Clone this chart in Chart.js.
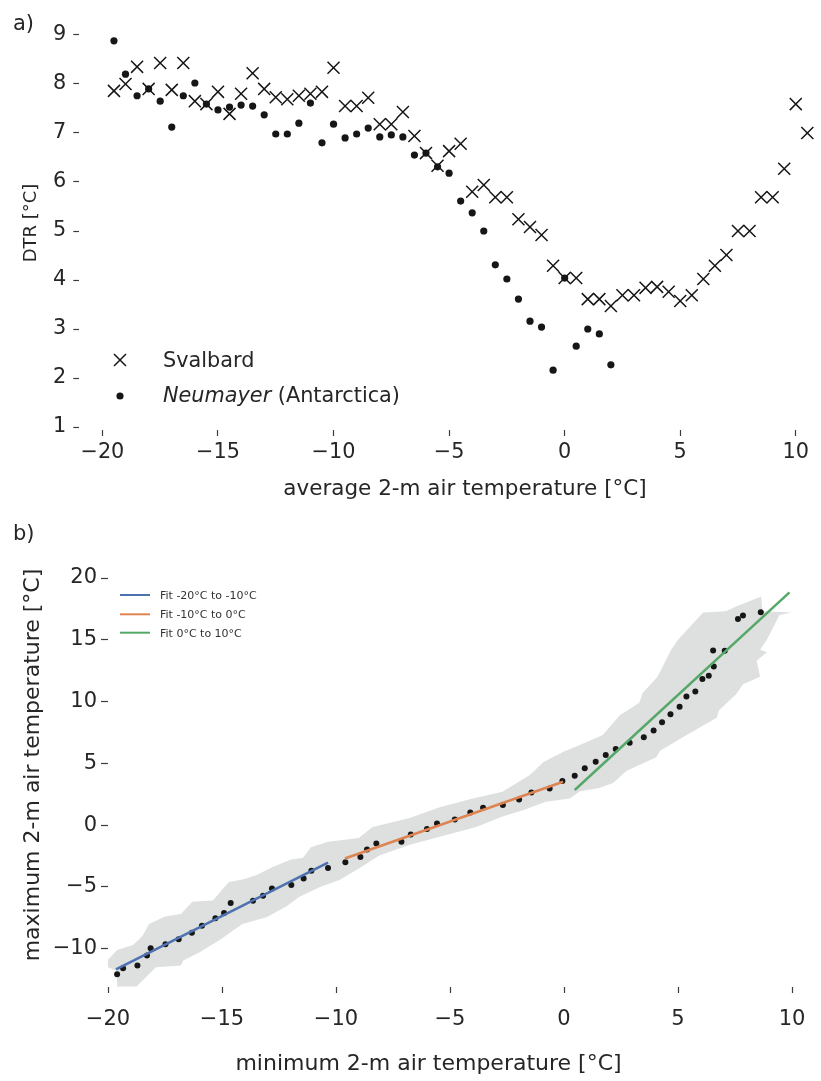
<!DOCTYPE html>
<html>
<head>
<meta charset="utf-8">
<script src="https://cdn.jsdelivr.net/npm/chart.js@4.4.1/dist/chart.umd.min.js"></script>
<style>
  body { margin: 0; background: #fff; width: 821px; height: 1081px; overflow: hidden; position: relative; }
  canvas { position: absolute; left: 0; }
  #dtrChart { top: 0; }
  #minmaxChart { top: 510px; }
</style>
</head>
<body>
<canvas id="dtrChart" width="852" height="510"></canvas>
<canvas id="minmaxChart" width="821" height="571"></canvas>
<script>
// ---- panel a) : DTR vs average temperature (0.5 degC bins) ----
const tempBins = [-19.5, -19, -18.5, -18, -17.5, -17, -16.5, -16, -15.5, -15,
  -14.5, -14, -13.5, -13, -12.5, -12, -11.5, -11, -10.5, -10,
  -9.5, -9, -8.5, -8, -7.5, -7, -6.5, -6, -5.5, -5,
  -4.5, -4, -3.5, -3, -2.5, -2, -1.5, -1, -0.5, 0,
  0.5, 1, 1.5, 2, 2.5, 3, 3.5, 4, 4.5, 5,
  5.5, 6, 6.5, 7, 7.5, 8, 8.5, 9, 9.5, 10, 10.5];
const svalbardDTR = [7.86, 8.0, 8.35, 7.9, 8.43, 7.88, 8.43, 7.65, 7.59, 7.84,
  7.39, 7.8, 8.22, 7.9, 7.73, 7.69, 7.76, 7.8, 7.84, 8.33,
  7.55, 7.55, 7.72, 7.18, 7.18, 7.43, 6.94, 6.59, 6.33, 6.63,
  6.78, 5.8, 5.94, 5.69, 5.69, 5.24, 5.08, 4.92, 4.29, 4.04,
  4.04, 3.61, 3.61, 3.47, 3.69, 3.69, 3.84, 3.86, 3.76, 3.57,
  3.69, 4.02, 4.29, 4.51, 5.0, 5.0, 5.69, 5.69, 6.27, 7.59, 7.0];
const neumayerDTR = [8.88, 8.2, 7.76, 7.9, 7.65, 7.12, 7.76, 8.02, 7.59, 7.47,
  7.53, 7.57, 7.55, 7.37, 6.98, 6.98, 7.2, 7.61, 6.8, 7.18,
  6.9, 6.98, 7.1, 6.92, 6.96, 6.92, 6.55, 6.59, 6.31, 6.18,
  5.61, 5.37, 5.0, 4.31, 4.02, 3.61, 3.16, 3.04, 2.16, 4.04,
  2.65, 3.0, 2.9, 2.27];
const dtrTicksX = [-20, -15, -10, -5, 0, 5, 10];
const dtrTicksY = [1, 2, 3, 4, 5, 6, 7, 8, 9];

// ---- panel b) : max vs min temperature ----
const minTemp = [-19.6, -19.34, -18.71, -18.29, -18.13, -17.48, -16.9, -16.32, -15.88, -15.29,
  -14.91, -14.62, -13.64, -13.2, -12.81, -11.96, -11.42, -11.08, -10.35, -9.59,
  -8.93, -8.64, -8.23, -7.13, -6.72, -6.01, -5.57, -4.79, -4.11, -3.55,
  -2.68, -1.97, -1.43, -0.63, -0.07, 0.47, 0.91, 1.39, 1.83, 2.27,
  2.88, 3.5, 3.93, 4.3, 4.67, 5.07, 5.37, 5.76, 6.07, 6.35,
  6.57, 6.54, 7.05, 7.63, 7.85, 8.63];
const maxTemp = [-12.07, -11.58, -11.37, -10.56, -9.96, -9.64, -9.23, -8.7, -8.15, -7.53,
  -7.12, -6.31, -6.12, -5.72, -5.13, -4.85, -4.32, -3.69, -3.47, -3.0,
  -2.57, -1.97, -1.49, -1.35, -0.76, -0.32, 0.14, 0.46, 1.03, 1.4,
  1.62, 2.08, 2.65, 2.97, 3.57, 4.0, 4.6, 5.13, 5.68, 6.16,
  6.67, 7.11, 7.65, 8.33, 8.98, 9.59, 10.41, 10.81, 11.82, 12.08,
  12.84, 14.14, 14.11, 16.68, 16.97, 17.22];
// spread envelope: upper edge left->right, then lower edge right->left
const envelopeX = [-20.0, -19.6, -18.9, -18.5, -18.2, -17.5, -16.8, -16.3, -15.4, -14.7,
  -14.1, -13.5, -12.8, -12.0, -11.45, -11.1, -10.35, -9.7, -9.0, -8.4,
  -6.8, -5.45, -4.0, -2.7, -1.5, -0.9, 0.0, 0.85, 1.7, 2.45,
  3.3, 3.45, 4.1, 4.7, 5.0, 6.1, 7.1, 7.55, 8.65, 8.7, 10.0,
  9.45, 8.9, 8.6, 8.9, 8.45, 8.6, 7.85, 7.55, 6.8, 6.7,
  5.95, 5.1, 4.2, 4.05, 2.75, 2.15, 1.55, 0.7, 0.25, -0.8,
  -1.8, -2.7, -3.85, -5.45, -6.8, -8.1, -9.0, -9.85, -10.7, -11.6,
  -12.2, -13.05, -14.1, -14.5, -15.1, -16.0, -16.7, -16.8, -17.9, -18.75,
  -19.6, -19.6, -20.0];
const envelopeY = [-10.9, -10.1, -9.7, -9.0, -8.0, -7.4, -7.2, -6.2, -6.1, -4.6,
  -4.4, -4.05, -3.4, -2.8, -2.65, -1.8, -1.35, -1.2, -1.05, -0.15,
  0.55, 1.45, 2.15, 2.7, 4.05, 5.1, 5.95, 6.6, 7.3, 8.9,
  9.9, 10.7, 12.0, 14.2, 15.0, 17.2, 17.3, 17.7, 18.5, 17.3, 17.2,
  17.0, 15.0, 14.2, 14.0, 13.3, 12.0, 11.4, 10.6, 9.3, 8.7,
  7.9, 7.0, 6.0, 5.5, 4.4, 3.4, 3.0, 2.75, 2.15, 1.9,
  1.2, 0.7, -0.15, -0.95, -1.6, -2.45, -3.5, -4.45, -5.0, -5.8,
  -6.6, -7.45, -8.0, -8.5, -9.3, -10.3, -10.95, -11.35, -11.5, -13.05,
  -13.05, -11.8, -11.5];
// fit lines, end points
const fitColdX = [-19.65, -10.35], fitColdY = [-11.68, -3.03];
const fitMidX = [-9.61, -0.04], fitMidY = [-2.7, 3.51];
const fitWarmX = [0.47, 9.89], fitWarmY = [2.84, 18.84];
const mmTicksX = [-20, -15, -10, -5, 0, 5, 10];
const mmTicksY = [-10, -5, 0, 5, 10, 15, 20];

const ink = '#262626';
const tickInk = '#3c3c3c';
const fitColors = ['#4c72b0', '#dd8452', '#55a868'];
Chart.defaults.font.family = "'DejaVu Sans', sans-serif";

function pairs(xs, ys) { return xs.map((x, i) => ({ x: x, y: ys[i] })); }
function fixedTicks(values) { return function (scale) { scale.ticks = values.map(v => ({ value: v })); }; }
function minusFmt(v) { return v < 0 ? '\u2212' + Math.abs(v) : String(v); }

// free text, legends and panel letters
const annotate = {
  id: 'annotate',
  afterDraw(chart, args, opts) {
    const ctx = chart.ctx;
    (opts.texts || []).forEach(t => {
      ctx.save();
      ctx.translate(t.x, t.y);
      ctx.rotate(t.rotate || 0);
      ctx.fillStyle = t.color || ink;
      ctx.textBaseline = 'alphabetic';
      const parts = t.parts || [{ text: t.text }];
      const fontOf = p => (p.italic ? 'italic ' : '') + t.size + "px 'DejaVu Sans'";
      let total = 0;
      parts.forEach(p => { ctx.font = fontOf(p); total += ctx.measureText(p.text).width; });
      let x = t.align === 'left' ? 0 : -total / 2;
      ctx.textAlign = 'left';
      parts.forEach(p => { ctx.font = fontOf(p); ctx.fillText(p.text, x, 0); x += ctx.measureText(p.text).width; });
      ctx.restore();
    });
    (opts.markers || []).forEach(m => {
      ctx.save();
      ctx.strokeStyle = m.color; ctx.fillStyle = m.color;
      if (m.kind === 'cross') {
        ctx.lineWidth = 1.5;
        ctx.beginPath();
        ctx.moveTo(m.x - m.r, m.y - m.r); ctx.lineTo(m.x + m.r, m.y + m.r);
        ctx.moveTo(m.x - m.r, m.y + m.r); ctx.lineTo(m.x + m.r, m.y - m.r);
        ctx.stroke();
      } else if (m.kind === 'dot') {
        ctx.beginPath(); ctx.arc(m.x, m.y, m.r, 0, Math.PI * 2); ctx.fill();
      } else {
        ctx.lineWidth = 2;
        ctx.beginPath(); ctx.moveTo(m.x, m.y); ctx.lineTo(m.x + m.len, m.y); ctx.stroke();
      }
      ctx.restore();
    });
  }
};

function tickAxis(min, max, values, fitSize, isX, tickLen, pad, fontSize) {
  return {
    type: 'linear', min: min, max: max,
    afterBuildTicks: fixedTicks(values),
    afterFit: s => {
      if (isX) { s.height = fitSize; } else { s.width = fitSize; }
      s.paddingLeft = 0; s.paddingRight = 0; s.paddingTop = 0; s.paddingBottom = 0;
    },
    border: { display: false },
    grid: { drawOnChartArea: false, drawTicks: true, tickLength: tickLen, tickWidth: 1.2, tickColor: tickInk },
    ticks: { color: ink, padding: pad, font: { size: fontSize }, callback: v => minusFmt(v) }
  };
}

// Panel a)
new Chart(document.getElementById('dtrChart'), {
  type: 'scatter',
  data: {
    datasets: [{
      label: 'Neumayer (Antarctica)',
      data: pairs(tempBins.slice(0, neumayerDTR.length), neumayerDTR),
      pointStyle: 'circle', pointRadius: 3.6, backgroundColor: '#161616', borderWidth: 0,
      order: 1
    }, {
      label: 'Svalbard',
      data: pairs(tempBins, svalbardDTR),
      pointStyle: 'crossRot', pointRadius: 8.5, borderColor: '#161616', borderWidth: 1.5,
      backgroundColor: 'transparent', order: 2
    }]
  },
  options: {
    responsive: false, animation: false, events: [],
    layout: { padding: { top: 15, left: 0, right: 0, bottom: 0 } },
    plugins: {
      legend: { display: false }, tooltip: { enabled: false },
      annotate: {
        texts: [
          { text: 'a)', x: 13, y: 30, size: 21, align: 'left' },
          { text: 'average 2-m air temperature [°C]', x: 465, y: 495, size: 21.5 },
          { text: 'DTR [°C]', x: 36, y: 223, size: 18, rotate: -Math.PI / 2 },
          { text: 'Svalbard', x: 163, y: 367, size: 20.8, align: 'left' },
          { parts: [{ text: 'Neumayer', italic: true }, { text: ' (Antarctica)' }], x: 163, y: 402, size: 20.8, align: 'left' }
        ],
        markers: [
          { kind: 'cross', x: 120, y: 360, r: 6, color: '#161616' },
          { kind: 'dot', x: 120, y: 396, r: 3.6, color: '#161616' }
        ]
      }
    },
    scales: {
      x: tickAxis(-21, 12, dtrTicksX, 80, true, 6, 4, 20.8),
      y: tickAxis(0.939, 9.408, dtrTicksY, 79.3, false, 6, 7, 20.8)
    }
  },
  plugins: [annotate]
});

// Panel b)
new Chart(document.getElementById('minmaxChart'), {
  type: 'scatter',
  data: {
    datasets: [{
      label: 'spread',
      data: pairs(envelopeX, envelopeY),
      showLine: true, fill: 'shape', pointRadius: 0, borderWidth: 0,
      borderColor: 'rgba(0,0,0,0)', backgroundColor: 'rgb(222,223,223)', order: 5
    }, {
      label: 'binned',
      data: pairs(minTemp, maxTemp),
      pointStyle: 'circle', pointRadius: 3, backgroundColor: '#161616', borderWidth: 0, order: 4
    }, {
      label: 'Fit -20°C to -10°C', data: pairs(fitColdX, fitColdY),
      showLine: true, pointRadius: 0, borderColor: fitColors[0], borderWidth: 2.5, order: 3
    }, {
      label: 'Fit -10°C to 0°C', data: pairs(fitMidX, fitMidY),
      showLine: true, pointRadius: 0, borderColor: fitColors[1], borderWidth: 2.5, order: 2
    }, {
      label: 'Fit 0°C to 10°C', data: pairs(fitWarmX, fitWarmY),
      showLine: true, pointRadius: 0, borderColor: fitColors[2], borderWidth: 2.5, order: 1
    }]
  },
  options: {
    responsive: false, animation: false, events: [],
    layout: { padding: { top: 68, left: 0, right: 17.6, bottom: 0 } },
    plugins: {
      legend: { display: false }, tooltip: { enabled: false },
      annotate: {
        texts: [
          { text: 'b)', x: 13, y: 30, size: 21, align: 'left' },
          { text: 'minimum 2-m air temperature [°C]', x: 428.5, y: 560, size: 22 },
          { text: 'maximum 2-m air temperature [°C]', x: 39, y: 255, size: 22, rotate: -Math.PI / 2 },
          { text: 'Fit -20°C to -10°C', x: 160, y: 89, size: 11, align: 'left', color: '#333' },
          { text: 'Fit -10°C to 0°C', x: 160, y: 108, size: 11, align: 'left', color: '#333' },
          { text: 'Fit 0°C to 10°C', x: 160, y: 127, size: 11, align: 'left', color: '#333' }
        ],
        markers: [
          { kind: 'line', x: 120, y: 85, len: 30, color: fitColors[0] },
          { kind: 'line', x: 120, y: 104.3, len: 30, color: fitColors[1] },
          { kind: 'line', x: 120, y: 122.7, len: 30, color: fitColors[2] }
        ]
      }
    },
    scales: {
      x: tickAxis(-20, 10.5, mmTicksX, 94, true, 6, 14, 21),
      y: tickAxis(-13.1, 20, mmTicksY, 108, false, 7, 4, 21)
    }
  },
  plugins: [annotate]
});
</script>
</body>
</html>
